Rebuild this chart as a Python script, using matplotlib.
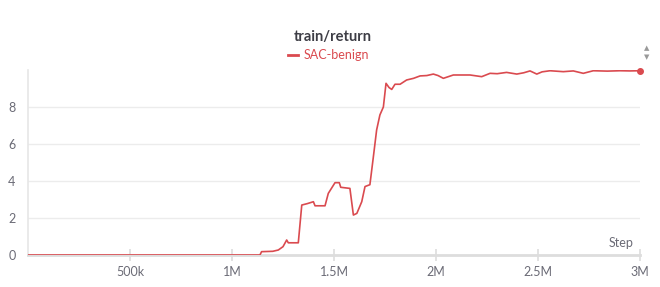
import matplotlib.pyplot as plt
import numpy as np

plt.rcParams['font.family'] = ['Lato', 'DejaVu Sans']

# step (millions) and return
steps = [0.0, 0.30, 0.65, 1.137, 1.145, 1.20, 1.227, 1.250, 1.268, 1.276, 1.325,
         1.342, 1.370, 1.399, 1.407, 1.456, 1.472, 1.505, 1.526, 1.533, 1.578,
         1.595, 1.612, 1.636, 1.652, 1.676, 1.693, 1.709, 1.725, 1.742, 1.755,
         1.770, 1.783, 1.799, 1.824, 1.856, 1.890, 1.922, 1.955, 1.987, 2.010,
         2.036, 2.085, 2.118, 2.167, 2.224, 2.265, 2.300, 2.346, 2.396, 2.430,
         2.461, 2.494, 2.520, 2.559, 2.624, 2.673, 2.722, 2.771, 2.840, 2.902,
         2.950, 3.0]
returns = [0.0, 0.0, 0.0, 0.0, 0.18, 0.2, 0.27, 0.45, 0.81, 0.66, 0.66,
           2.70, 2.78, 2.88, 2.66, 2.66, 3.33, 3.91, 3.91, 3.66, 3.60,
           2.16, 2.25, 2.88, 3.70, 3.80, 5.31, 6.76, 7.57, 8.00, 9.28,
           9.05, 8.95, 9.23, 9.23, 9.46, 9.55, 9.68, 9.70, 9.78, 9.70,
           9.55, 9.73, 9.73, 9.73, 9.64, 9.82, 9.80, 9.87, 9.78, 9.85,
           9.95, 9.78, 9.90, 9.96, 9.91, 9.95, 9.82, 9.96, 9.94, 9.96,
           9.95, 9.96]
xticks = [0.5e6, 1e6, 1.5e6, 2e6, 2.5e6, 3e6]
xtick_labels = ['500k', '1M', '1.5M', '2M', '2.5M', '3M']
yticks = [0, 2, 4, 6, 8]

red = '#da4a4f'
grid_col = '#ececec'
txt_col = '#6b6b76'

fig = plt.figure(figsize=(6.6, 2.87), dpi=100)
ax = fig.add_axes([28 / 660, 1 - 255 / 287, 612 / 660, 185 / 287])

x = np.array(steps) * 1e6
ax.plot(x, returns, color=red, lw=1.2, zorder=3)
ax.plot(x[-1], returns[-1], 'o', color=red, ms=4, zorder=4, clip_on=False)

ax.set_xlim(0, 3e6)
ax.set_ylim(0, 10)
ax.set_xticks(xticks)
ax.set_xticklabels(xtick_labels)
ax.set_yticks(yticks)
ax.tick_params(axis='x', colors='#dddddd', labelcolor=txt_col, length=8,
               width=1.2, direction='inout', labelsize=9, pad=4)
ax.tick_params(axis='y', length=0, labelcolor=txt_col, labelsize=9, pad=9)

for y in yticks[1:]:
    ax.axhline(y, color=grid_col, lw=1, zorder=1)

for s in ['top', 'right']:
    ax.spines[s].set_visible(False)
ax.spines['bottom'].set_color('#dddddd')
ax.spines['bottom'].set_linewidth(2)
ax.spines['left'].set_color('#e6e6e6')
ax.spines['left'].set_linewidth(1.2)

ax.text(0.99, 0.035, 'Step', transform=ax.transAxes, ha='right', va='bottom',
        color=txt_col, fontsize=9)

fig.text(333 / 660, 1 - 37 / 287, 'train/return', ha='center', va='center',
         fontsize=10.5, fontweight='bold', color='#3d3d45')
fig.lines.append(plt.Line2D([288 / 660, 298 / 660], [1 - 55 / 287] * 2,
                            transform=fig.transFigure, color=red, lw=2))
fig.text(304 / 660, 1 - 55 / 287, 'SAC-benign', ha='left', va='center',
         fontsize=9, color=red)

# small scroll arrows at top right
fig.text(647 / 660, 1 - 48 / 287, '▲', ha='center', va='center',
         fontsize=5, color='#999999', family=['DejaVu Sans'])
fig.text(647 / 660, 1 - 57 / 287, '▼', ha='center', va='center',
         fontsize=5, color='#999999', family=['DejaVu Sans'])

fig.savefig('out.png', dpi=100)
